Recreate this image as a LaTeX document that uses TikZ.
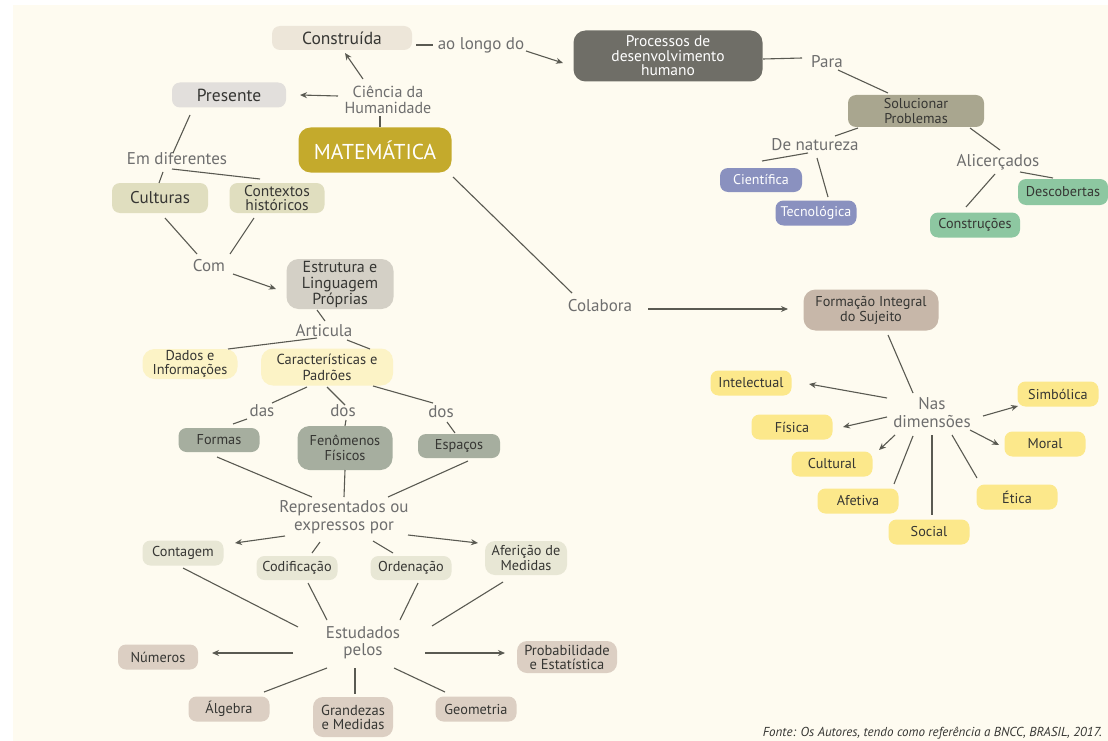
\documentclass[tikz,border=0pt]{standalone}
\usepackage{fontspec}
\setmainfont{PT Sans}
\usetikzlibrary{arrows.meta}
\definecolor{bgc}{HTML}{FEFBF0}
\definecolor{linec}{HTML}{5A5A52}
\definecolor{txtc}{HTML}{363633}
\definecolor{lblc}{HTML}{6E6E6E}
\definecolor{cConstr}{HTML}{EDE6D9}
\definecolor{cPres}{HTML}{E2DFDC}
\definecolor{cMat}{HTML}{C4AA2C}
\definecolor{cCult}{HTML}{E0DEBF}
\definecolor{cProc}{HTML}{6F6E67}
\definecolor{cSol}{HTML}{A9A68F}
\definecolor{cBlue}{HTML}{8A91BF}
\definecolor{cGreen}{HTML}{8DC7A1}
\definecolor{cEstr}{HTML}{D4D0C6}
\definecolor{cYel}{HTML}{FCF3C6}
\definecolor{cSage}{HTML}{A6AE9F}
\definecolor{cRep}{HTML}{E8E7D5}
\definecolor{cTan}{HTML}{DCCFC3}
\definecolor{cForm}{HTML}{C7B7A9}
\definecolor{cDim}{HTML}{FCE88B}
\newcommand\fs[2]{\fontsize{#1}{#2}\selectfont}
\newcommand\lk[5][]{\draw[con,#1] ([shift={(#3)}]#2.center) -- ([shift={(#5)}]#4.center);}
\tikzset{
  box/.style={rounded corners=8pt, inner sep=0pt, align=center, text=txtc},
  dim/.style={box, fill=cDim, minimum width=81pt, minimum height=25pt, font=\fs{14.2}{15}},
  lbl/.style={text=lblc, align=center, inner sep=1pt, font=\fs{17}{18}},
  con/.style={draw=linec, line width=1.1pt},
  arr/.style={-{Stealth[length=7pt,width=6pt]}}
}
\begin{document}
\begin{tikzpicture}[x=1pt,y=-1pt]
\useasboundingbox (0,0) rectangle (1108,741);
\fill[bgc] (13,5) rectangle (1108,741);

% top part
\node[box, fill=cConstr, minimum width=140pt, minimum height=24pt, font=\fs{17.5}{18}] (constr) at (342,38) {Construída};
\node[lbl] (aolongo) at (481,45) {ao longo do};
\node[box, fill=cProc, rounded corners=12pt, text=white, minimum width=189pt, minimum height=51pt, font=\fs{15.5}{14.5}] (proc) at (668,56) {Processos de\\desenvolvimento\\humano};
\node[lbl] (para) at (827,62) {Para};
\node[box, fill=cSol, minimum width=136pt, minimum height=32pt, font=\fs{14.2}{15}] (soluc) at (916,111) {Solucionar\\Problemas};
\node[lbl] (denat) at (815,145) {De natureza};
\node[box, fill=cBlue, text=white, minimum width=82pt, minimum height=24pt, font=\fs{14}{15}] (cient) at (761,180) {Científica};
\node[box, fill=cBlue, text=white, minimum width=81pt, minimum height=25pt, font=\fs{14}{15}] (tecno) at (816,213) {Tecnológica};
\node[lbl] (alic) at (998,162) {Alicerçados};
\node[box, fill=cGreen, minimum width=90pt, minimum height=26pt, font=\fs{14.2}{15}] (desc) at (1063,192) {Descobertas};
\node[box, fill=cGreen, minimum width=90pt, minimum height=25pt, font=\fs{14.2}{15}] (constru) at (975,225) {Construções};

% left
\node[box, fill=cPres, minimum width=114pt, minimum height=25pt, font=\fs{17.5}{18}] (pres) at (229,95) {Presente};
\node[lbl, font=\fs{16}{16}] (ciencia) at (388,100) {Ciência da\\Humanidade};
\node[box, fill=cMat, rounded corners=12pt, text=white, minimum width=153pt, minimum height=45pt, font=\fs{21.5}{22}] (mat) at (375,150) {MATEMÁTICA};
\node[lbl] (emdif) at (177,159) {Em diferentes};
\node[box, fill=cCult, minimum width=96pt, minimum height=30pt, font=\fs{17}{17}] (cult) at (160,198) {Culturas};
\node[box, fill=cCult, minimum width=95pt, minimum height=30pt, font=\fs{15.5}{14}] (ctx) at (277,198) {Contextos\\históricos};
\node[lbl] (com) at (209,266) {Com};
\node[box, fill=cEstr, rounded corners=12pt, minimum width=107pt, minimum height=50pt, font=\fs{16}{16}] (estr) at (340,284) {Estrutura e\\Linguagem\\Próprias};
\node[lbl] (artic) at (324,331) {Articula};
\node[box, fill=cYel, rounded corners=12pt, minimum width=95pt, minimum height=30pt, font=\fs{14.3}{14}] (dados) at (190,364) {Dados e\\Informações};
\node[box, fill=cYel, rounded corners=12pt, minimum width=132pt, minimum height=37pt, font=\fs{14.5}{16}] (carac) at (327,367) {Características e\\Padrões};
\node[lbl] (das) at (262,411) {das};
\node[lbl] (dos1) at (343,411) {dos};
\node[lbl] (dos2) at (441,412) {dos};
\node[box, fill=cSage, minimum width=81pt, minimum height=24pt, font=\fs{14.3}{15}] (formas) at (219,440) {Formas};
\node[box, fill=cSage, rounded corners=12pt, minimum width=95pt, minimum height=44pt, font=\fs{14.3}{15}] (fenom) at (345,448) {Fenômenos\\Físicos};
\node[box, fill=cSage, minimum width=82pt, minimum height=24pt, font=\fs{14.3}{15}] (espac) at (459,446) {Espaços};
\node[lbl, font=\fs{17}{18}] (repr) at (344,517) {Representados ou\\expressos por};
\node[box, fill=cRep, minimum width=81pt, minimum height=25pt, font=\fs{14.3}{15}] (contag) at (183,553) {Contagem};
\node[box, fill=cRep, minimum width=81pt, minimum height=24pt, font=\fs{14.3}{15}] (codif) at (297,568) {Codificação};
\node[box, fill=cRep, minimum width=81pt, minimum height=24pt, font=\fs{14.3}{15}] (orden) at (411,568) {Ordenação};
\node[box, fill=cRep, rounded corners=10pt, minimum width=82pt, minimum height=34pt, font=\fs{14.3}{15}] (aferi) at (526,558) {Aferição de\\Medidas};
\node[lbl, font=\fs{17}{17}] (estud) at (363,643) {Estudados\\pelos};
\node[box, fill=cTan, minimum width=80pt, minimum height=25pt, font=\fs{14.3}{15}] (numer) at (158,657) {Números};
\node[box, fill=cTan, rounded corners=10pt, minimum width=100pt, minimum height=32pt, font=\fs{14.5}{14}] (prob) at (567,657) {Probabilidade\\e Estatística};
\node[box, fill=cTan, minimum width=81pt, minimum height=25pt, font=\fs{14.3}{15}] (algeb) at (229,709) {Álgebra};
\node[box, fill=cTan, rounded corners=10pt, minimum width=80pt, minimum height=40pt, font=\fs{14.5}{14}] (grand) at (353,717) {Grandezas\\e Medidas};
\node[box, fill=cTan, minimum width=81pt, minimum height=25pt, font=\fs{14.3}{15}] (geom) at (476,709) {Geometria};

% right middle
\node[lbl] (colab) at (600,306) {Colabora};
\node[box, fill=cForm, rounded corners=12pt, minimum width=135pt, minimum height=41pt, font=\fs{14.3}{15}] (form) at (871,310) {Formação Integral\\do Sujeito};
\node[lbl, font=\fs{17}{18}] (nas) at (932,413) {Nas\\dimensões};
\node[dim] (intel) at (751,383) {Intelectual};
\node[dim] (fis) at (792,427) {Física};
\node[dim] (cultl) at (832,464) {Cultural};
\node[dim] (afet) at (858,501) {Afetiva};
\node[dim] (soc) at (929,532) {Social};
\node[dim] (etica) at (1017,497) {Ética};
\node[dim] (moral) at (1045,444) {Moral};
\node[dim] (simb) at (1058,394) {Simbólica};

\node[text=txtc, inner sep=0pt, font=\fs{13}{13}\itshape, anchor=east] (fonte) at (1102,733) {Fonte: Os Autores, tendo como referência a BNCC, BRASIL, 2017.};

% connectors top
\lk{constr}{74,7}{aolongo}{-48,0}
\lk[arr]{aolongo}{45,6}{proc}{-105,7}
\lk{proc}{95,3}{para}{-25,-4}
\lk{para}{11,8}{soluc}{-28,-18}
\lk{soluc}{-58,17}{denat}{20,-9}
\lk{denat}{-7,8}{cient}{1,-19}
\lk{denat}{2,13}{tecno}{12,-16}
\lk{soluc}{54,17}{alic}{2,-12}
\lk{alic}{-3,12}{constru}{-9,-18}
\lk{alic}{22,10}{desc}{-10,-14}

% connectors left
\lk[arr]{ciencia}{-25,-21}{constr}{3,15}
\lk[arr]{ciencia}{-50,-4}{pres}{71,0}
\lk{mat}{5,-23}{ciencia}{-8,16}
\lk{pres}{-39,20}{emdif}{-4,-6}
\lk{emdif}{-14,13}{cult}{-1,-15}
\lk{emdif}{-5,10}{ctx}{-17,-19}
\lk{cult}{5,20}{com}{-12,-12}
\lk{ctx}{-23,20}{com}{21,-12}
\lk[arr]{com}{24,8}{estr}{-64,5}
\lk{estr}{-23,26}{artic}{1,-10}
\lk{artic}{-7,7}{dados}{38,-15}
\lk{artic}{23,9}{carac}{43,-18}
\lk{carac}{-20,20}{das}{10,-8}
\lk{das}{-15,8}{formas}{14,-16}
\lk{carac}{0,20}{dos1}{2,-6}
\lk{dos1}{3,9}{fenom}{0,-22}
\lk{carac}{46,19}{dos2}{-8,-9}
\lk{dos2}{6,10}{espac}{-4,-13}
\lk{formas}{-2,17}{repr}{-32,-20}
\lk{fenom}{0,22}{repr}{0,-20}
\lk{espac}{9,15}{repr}{44,-20}
\lk[arr]{repr}{-59,19}{contag}{52,-10}
\lk{repr}{-24,25}{codif}{15,-15}
\lk{repr}{29,24}{orden}{-18,-15}
\lk[arr]{repr}{64,18}{aferi}{-48,-15}
\lk{contag}{0,15}{estud}{-65,-16}
\lk{codif}{11,15}{estud}{-36,-23}
\lk{orden}{7,15}{estud}{37,-23}
\lk{aferi}{-23,24}{estud}{69,-17}
\lk[arr]{estud}{-70,10}{numer}{54,-4}
\lk[arr]{estud}{62,10}{prob}{-62,-4}
\lk{estud}{-36,25}{algeb}{35,-17}
\lk{estud}{-8,25}{grand}{2,-23}
\lk{estud}{31,25}{geom}{-31,-17}

% connectors right
\lk{mat}{78,27}{colab}{-28,-13}
\lk[arr]{colab}{48,3}{form}{-83,-1}
\lk{form}{17,25}{nas}{-19,-20}
\lk[arr]{nas}{-45,-15}{intel}{58,1}
\lk[arr]{nas}{-45,4}{fis}{51,0}
\lk[arr]{nas}{-37,22}{cultl}{47,-14}
\lk{nas}{-19,23}{afet}{36,-17}
\lk{nas}{0,22}{soc}{3,-17}
\lk{nas}{20,22}{etica}{-40,-19}
\lk[arr]{nas}{38,17}{moral}{-46,1}
\lk[arr]{nas}{51,3}{simb}{-40,12}
\end{tikzpicture}
\end{document}
